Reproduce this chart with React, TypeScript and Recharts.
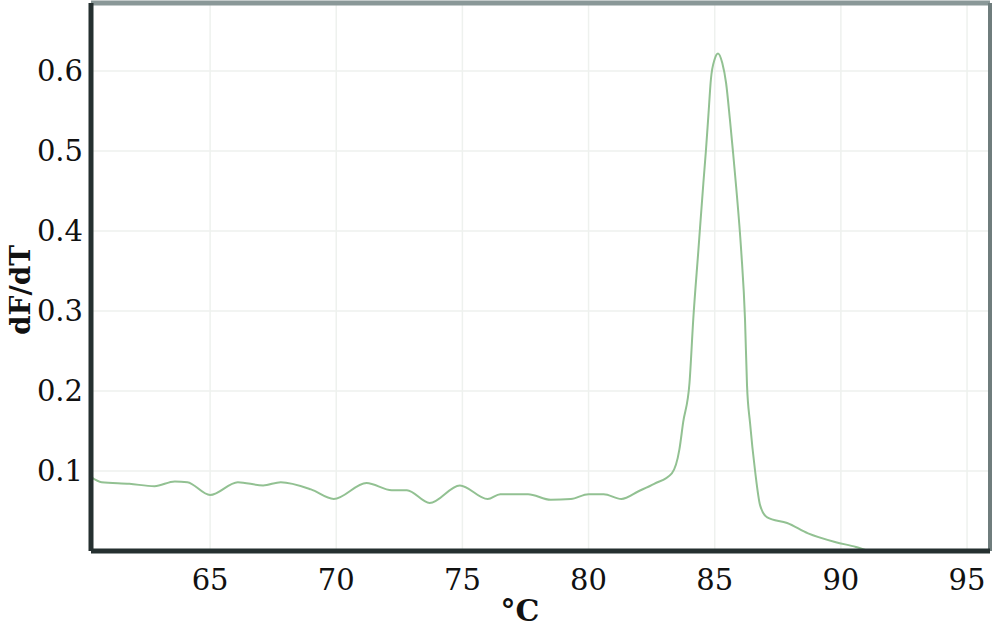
import React from 'react';
import {
  LineChart,
  Line,
  XAxis,
  YAxis,
  CartesianGrid,
  ReferenceLine,
  Label,
} from 'recharts';

// melt curve: temperature (°C) and dF/dT
const temps = [
  60.3, 60.7, 61.8, 62.8, 63.6, 64.1, 65.0, 66.1, 67.1, 67.8, 69.0, 69.9, 71.2, 72.2, 72.8,
  73.7, 74.9, 76.0, 76.5, 77.6, 78.5, 79.3, 80.0, 80.6, 81.3, 82.0, 82.6, 83.3, 83.6, 83.75,
  84.0, 84.15, 84.35, 84.55, 84.65, 84.75, 84.85, 85.0, 85.13, 85.3, 85.45, 85.6, 85.73,
  85.85, 86.05, 86.2, 86.28, 86.4, 86.6, 86.8, 87.08, 87.87, 88.7, 89.8, 90.6, 91.0,
];
const dfdt = [
  0.092, 0.086, 0.084, 0.081, 0.087, 0.086, 0.07, 0.086, 0.082, 0.086, 0.077, 0.065, 0.085,
  0.076, 0.076, 0.06, 0.082, 0.065, 0.071, 0.071, 0.064, 0.065, 0.071, 0.071, 0.065, 0.075,
  0.084, 0.097, 0.127, 0.161, 0.21, 0.29, 0.375, 0.46, 0.5, 0.545, 0.59, 0.615, 0.622, 0.61,
  0.585, 0.54, 0.497, 0.455, 0.375, 0.29, 0.207, 0.16, 0.1, 0.057, 0.042, 0.035, 0.022,
  0.011, 0.005, 0.001,
];
const xTicks = [65, 70, 75, 80, 85, 90, 95];
const yTicks = [0.1, 0.2, 0.3, 0.4, 0.5, 0.6];
const xDomain = [60.28, 95.91];
const yDomain = [0, 0.685];

const data = temps.map((t, i) => ({ t, v: dfdt[i] }));

const serif = '"DejaVu Serif", serif';
const tickStyle = { fontFamily: serif, fontSize: 29, fill: '#111' };

export default function App() {
  return (
    <div style={{ position: 'absolute', left: 0, top: 0, width: 1000, height: 633, background: '#fff' }}>
      <LineChart width={1000} height={633} data={data} margin={{ top: 3, right: 10, left: 0, bottom: 0 }}>
        <CartesianGrid stroke="#eef1ee" strokeWidth={1.5} />
        <XAxis
          type="number"
          dataKey="t"
          domain={xDomain}
          ticks={xTicks}
          allowDataOverflow
          height={82}
          tickLine={false}
          tickMargin={12}
          tick={tickStyle}
          axisLine={{ stroke: '#253030', strokeWidth: 5 }}
        >
          <Label
            content={() => (
              <text
                x={520}
                y={621}
                textAnchor="middle"
                fontFamily={serif}
                fontWeight="bold"
                fontSize={30}
                fill="#111"
              >
                °C
              </text>
            )}
          />
        </XAxis>
        <YAxis
          type="number"
          domain={yDomain}
          ticks={yTicks}
          allowDataOverflow
          width={91}
          tickLine={false}
          tick={tickStyle}
          tickFormatter={(v: number) => v.toFixed(1)}
          axisLine={{ stroke: '#253030', strokeWidth: 5 }}
        >
          <Label
            content={() => (
              <text
                x={0}
                y={0}
                transform="translate(30 290) rotate(-90)"
                textAnchor="middle"
                fontFamily={serif}
                fontWeight="bold"
                fontSize={28}
                fill="#111"
              >
                dF/dT
              </text>
            )}
          />
        </YAxis>
        <ReferenceLine y={yDomain[1]} stroke="#8a9898" strokeWidth={5} />
        <ReferenceLine x={xDomain[1]} stroke="#6f7d7d" strokeWidth={4} />
        <Line
          type="monotone"
          dataKey="v"
          stroke="#92c192"
          strokeWidth={2}
          dot={false}
          isAnimationActive={false}
        />
      </LineChart>
    </div>
  );
}
